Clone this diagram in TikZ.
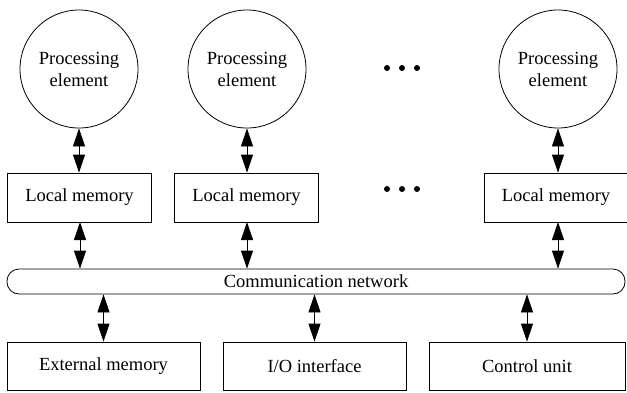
\documentclass[tikz,border=0pt]{standalone}
\usepackage{fontspec}
\setmainfont{Liberation Serif}
\usetikzlibrary{arrows.meta}

\begin{document}
\begin{tikzpicture}[x=1pt,y=-1pt,line width=0.8pt,
    font=\fontsize{18.5}{22}\selectfont,
    pe/.style={draw,circle,minimum size=118pt,inner sep=0pt,align=center},
    mem/.style={draw,minimum height=49pt,inner sep=0pt},
    link/.style={{Triangle[length=18pt,width=12pt]}-{Triangle[length=18pt,width=12pt]}}]
    \useasboundingbox (0,0) rectangle (627,392);
    % processing elements and their local memories
    \foreach \n/\x/\m in {1/79/79.5,2/247/246.5,3/558/556}
    {
        \node[pe] (pe\n) at (\x,69) {Processing\\element};
        \node[mem,minimum width=144pt] (lm\n) at (\m,197.5) {Local memory};
        \draw[link] (pe\n) -- (pe\n |- lm\n.north);
    }
    \foreach \y in {68,189}
        \foreach \x in {387,402,417}
            \fill (\x,\y) circle (3pt);
    \node[draw,rounded corners=12pt,minimum width=618pt,minimum height=25pt,inner sep=0pt] (net) at (316,281.5) {Communication network};
    \foreach \n/\x in {1/80,2/247,3/558}
        \draw[link] (\x,222) coordinate (t\n) -- (t\n |- net.north);
    % shared units below the network
    \node[mem,minimum width=193pt,minimum height=48pt] (ext) at (103.5,366) {External memory};
    \node[mem,minimum width=183pt,minimum height=48pt] (io) at (314.5,366) {I/O interface};
    \node[mem,minimum width=196pt,minimum height=48pt] (cu) at (527,366) {Control unit};
    \draw[link] (net.south -| ext) -- (ext);
    \draw[link] (net.south -| io) -- (io);
    \draw[link] (net.south -| cu) -- (cu);
\end{tikzpicture}
\end{document}
